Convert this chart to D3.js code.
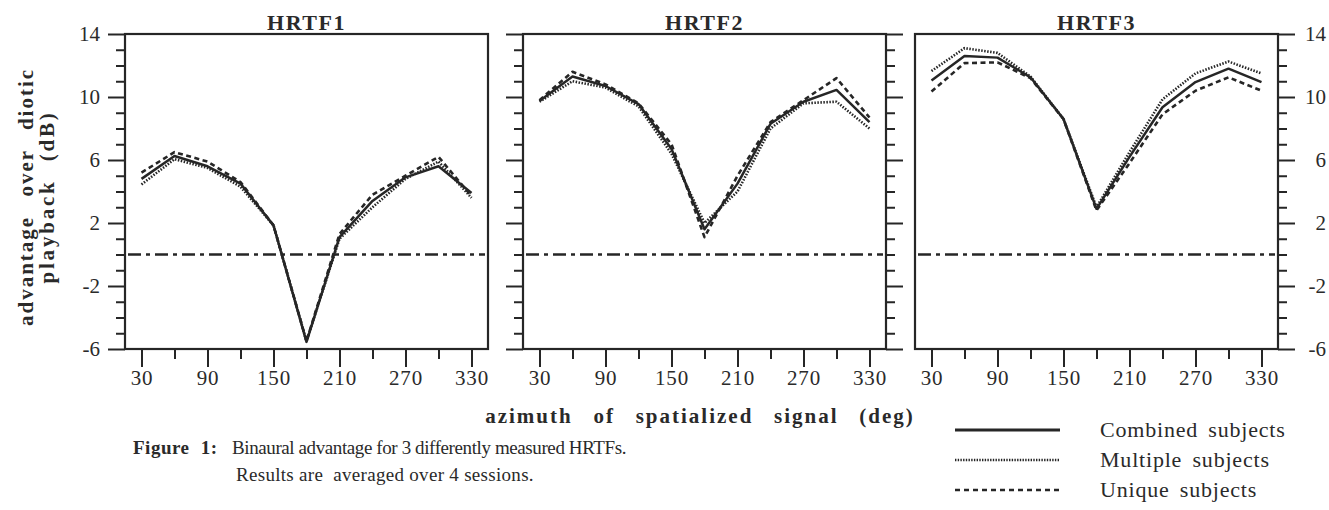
<!DOCTYPE html>
<html lang="en">
  <head>
    <meta charset="UTF-8" />
    <title>Binaural advantage</title>
    <style>
      body {
        margin: 0;
        background: #fff;
      }
    </style>
  </head>

  <body>
    <script src="https://cdn.jsdelivr.net/npm/d3@7"></script>
    <script>
      // valeurs
      const azimuts = [30, 60, 90, 120, 150, 180, 210, 240, 270, 300, 330];
      const titres = ["HRTF1", "HRTF2", "HRTF3"];
      const combines = [
        [4.8, 6.25, 5.6, 4.5, 1.85, -5.55, 1.1, 3.4, 4.9, 5.6, 3.9],
        [9.75, 11.3, 10.7, 9.55, 6.7, 1.6, 4.5, 8.3, 9.7, 10.45, 8.4],
        [11.05, 12.6, 12.5, 11.25, 8.6, 2.9, 6.2, 9.35, 10.95, 11.8, 10.95],
      ];
      const multiples = [
        [4.45, 6.05, 5.5, 4.3, 1.85, -5.5, 1.0, 3.0, 4.8, 5.9, 3.6],
        [9.7, 11.0, 10.6, 9.4, 6.4, 2.0, 4.0, 8.0, 9.6, 9.7, 8.0],
        [11.65, 13.1, 12.8, 11.3, 8.6, 3.0, 6.5, 9.85, 11.5, 12.25, 11.5],
      ];
      const uniques = [
        [5.2, 6.5, 5.9, 4.6, 1.85, -5.5, 1.3, 3.8, 5.0, 6.2, 3.7],
        [9.8, 11.6, 10.8, 9.6, 7.0, 1.1, 5.0, 8.4, 9.8, 11.2, 8.7],
        [10.35, 12.15, 12.2, 11.2, 8.6, 2.8, 5.8, 8.9, 10.4, 11.25, 10.4],
      ];
      const graduationsY = [14, 10, 6, 2, -2, -6];
      const graduationsX = [30, 90, 150, 210, 270, 330];
      const legendes = ["Combined subjects", "Multiple subjects", "Unique subjects"];

      const largeur = 1329;
      const hauteur = 510;
      const couleur = "#262626";
      const police = "'Liberation Serif', 'Times New Roman', serif";
      const gris = "#2a2a2a";

      const svg = d3
        .select("body")
        .append("svg")
        .attr("width", largeur)
        .attr("height", hauteur);

      const gauches = [125, 523, 915];
      const largeurPanneau = 363;
      const haut = 34;
      const bas = 349;

      const y = d3.scaleLinear().domain([-6, 14]).range([bas, haut]);

      const styles = [
        { nom: "combine", dash: null },
        { nom: "multiple", dash: "1.5,1.5" },
        { nom: "unique", dash: "5,3.5" },
      ];

      // petit raccourci pour les textes
      function texte(parent, x, yy, taille, contenu) {
        return parent
          .append("text")
          .attr("x", x)
          .attr("y", yy)
          .style("font-family", police)
          .style("font-size", taille + "px")
          .style("fill", gris)
          .text(contenu);
      }

      titres.forEach((titre, i) => {
        const x0 = gauches[i];
        const x = d3
          .scaleLinear()
          .domain([15, 345])
          .range([x0, x0 + largeurPanneau]);

        const panneau = svg.append("g");

        // titre
        texte(panneau, x0 + largeurPanneau / 2, 30, 22, titre)
          .attr("text-anchor", "middle")
          .style("font-weight", "bold")
          .style("letter-spacing", "1.5px");

        // axe x
        const axeX = panneau
          .append("g")
          .attr("transform", `translate(0,${bas})`)
          .call(
            d3
              .axisBottom(x)
              .tickValues(azimuts)
              .tickSize(17)
              .tickPadding(6)
              .tickFormat((d) => (graduationsX.includes(d) ? d : ""))
          );
        axeX.select(".domain").remove();
        axeX
          .selectAll(".tick line")
          .attr("stroke", couleur)
          .attr("stroke-width", 2)
          .attr("y2", (d) => (graduationsX.includes(d) ? 18 : 10));
        axeX
          .selectAll(".tick text")
          .style("font-family", police)
          .style("font-size", "21px")
          .style("letter-spacing", "0.8px")
          .style("fill", gris)
          .attr("dy", "0.6em");

        // axes y (gauche pour 1 et 2, droite pour 2 et 3)
        const valeursY = d3.range(-6, 15, 1);
        if (i < 2) {
          const axeG = panneau
            .append("g")
            .attr("transform", `translate(${x0},0)`)
            .call(
              d3
                .axisLeft(y)
                .tickValues(valeursY)
                .tickSize(17)
                .tickPadding(8)
                .tickFormat((d) =>
                  i == 0 && graduationsY.includes(d) ? d : ""
                )
            );
          axeG.select(".domain").remove();
          axeG
            .selectAll(".tick line")
            .attr("stroke", couleur)
            .attr("stroke-width", 2)
            .attr("x2", (d) => (graduationsY.includes(d) ? -17 : -9));
          axeG
            .selectAll(".tick text")
            .style("font-family", police)
            .style("font-size", "21px")
            .style("fill", gris);
        }
        if (i > 0) {
          const axeD = panneau
            .append("g")
            .attr("transform", `translate(${x0 + largeurPanneau},0)`)
            .call(
              d3
                .axisRight(y)
                .tickValues(valeursY)
                .tickSize(17)
                .tickPadding(8)
                .tickFormat((d) =>
                  i == 2 && graduationsY.includes(d) ? d : ""
                )
            );
          axeD.select(".domain").remove();
          axeD
            .selectAll(".tick line")
            .attr("stroke", couleur)
            .attr("stroke-width", 2)
            .attr("x2", (d) => (graduationsY.includes(d) ? 17 : 9));
          axeD
            .selectAll(".tick text")
            .style("font-family", police)
            .style("font-size", "21px")
            .style("fill", gris)
            .attr("text-anchor", "end")
            .attr("x", 48);
        }

        // cadre
        panneau
          .append("rect")
          .attr("x", x0)
          .attr("y", haut)
          .attr("width", largeurPanneau)
          .attr("height", bas - haut)
          .attr("fill", "none")
          .attr("stroke", couleur)
          .attr("stroke-width", 2.2);

        // ligne du zéro (tiret-point)
        panneau
          .append("line")
          .attr("x1", x0 + 3)
          .attr("x2", x0 + largeurPanneau - 3)
          .attr("y1", y(0))
          .attr("y2", y(0))
          .attr("stroke", couleur)
          .attr("stroke-width", 2.5)
          .attr("stroke-dasharray", "13,5,4,5");

        // courbes
        const ligne = d3
          .line()
          .x((d, k) => x(azimuts[k]))
          .y((d) => y(d));

        [uniques[i], multiples[i], combines[i]].forEach((serie, k) => {
          const style = styles[2 - k];
          panneau
            .append("path")
            .datum(serie)
            .attr("d", ligne)
            .attr("fill", "none")
            .attr("stroke", couleur)
            .attr("stroke-width", style.dash ? 2.6 : 2.5)
            .attr("stroke-dasharray", style.dash)
            .attr("stroke-linejoin", "round");
        });
      });

      // titre axe y
      const titreY = svg
        .append("g")
        .attr("transform", "translate(0,197) rotate(-90)");
      texte(titreY, 0, 33, 21, "advantage over diotic")
        .attr("text-anchor", "middle")
        .style("font-weight", "bold")
        .style("letter-spacing", "2px")
        .style("word-spacing", "12px");
      texte(titreY, 0, 54, 21, "playback (dB)")
        .attr("text-anchor", "middle")
        .style("font-weight", "bold")
        .style("letter-spacing", "2.8px")
        .style("word-spacing", "10px");

      // titre axe x
      texte(svg, 700, 423, 21, "azimuth of spatialized signal (deg)")
        .attr("text-anchor", "middle")
        .style("font-weight", "bold")
        .style("letter-spacing", "2px")
        .style("word-spacing", "13.5px");

      // légende de la figure
      texte(svg, 133, 454, 19, "Figure 1:")
        .style("font-weight", "bold")
        .style("letter-spacing", "0.5px")
        .style("word-spacing", "6px");
      texte(svg, 232, 454, 19, "Binaural advantage for 3 differently measured HRTFs.")
        .style("letter-spacing", "-0.4px");
      texte(svg, 236, 481, 19, "Results are  averaged over 4 sessions.")
        .style("white-space", "pre")
        .style("letter-spacing", "0.3px");

      // légende des courbes
      legendes.forEach((nom, k) => {
        const yy = 430 + k * 30;
        svg
          .append("line")
          .attr("x1", 955)
          .attr("x2", 1060)
          .attr("y1", yy)
          .attr("y2", yy)
          .attr("stroke", couleur)
          .attr("stroke-width", k == 0 ? 3 : 2.6)
          .attr("stroke-dasharray", k == 0 ? null : k == 1 ? "1.4,1.3" : "5,4");
        texte(svg, 1100, yy + 7, 22, nom)
          .style("letter-spacing", "0.8px")
          .style("word-spacing", "4px");
      });
    </script>
  </body>
</html>
